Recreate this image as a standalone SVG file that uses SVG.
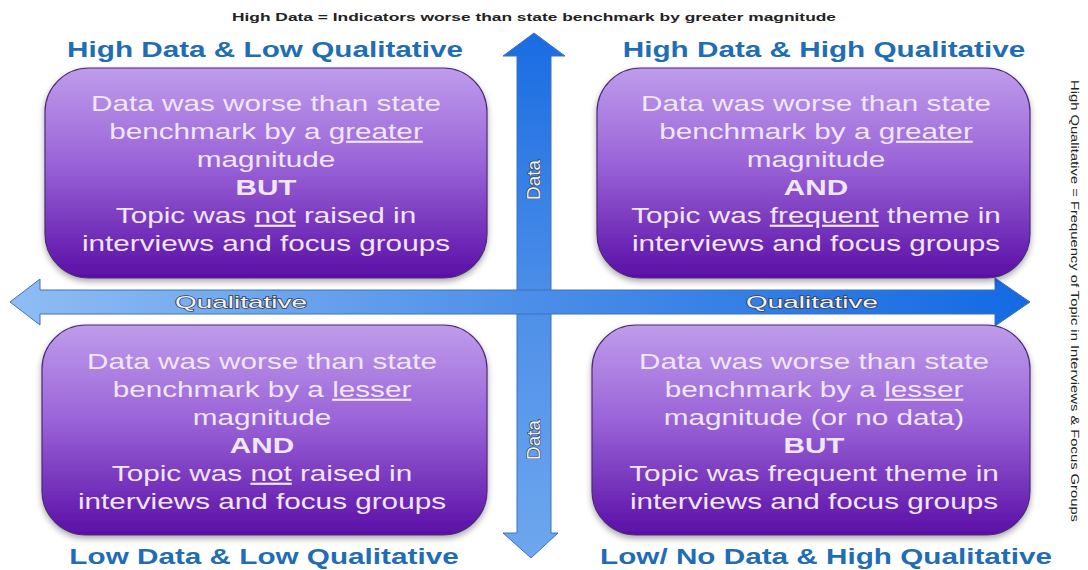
<svg xmlns="http://www.w3.org/2000/svg" width="1088" height="570" viewBox="0 0 1088 570">
<defs>
<linearGradient id="boxGrad" x1="0" y1="0" x2="0" y2="1">
<stop offset="0" stop-color="#bf9ceb"/>
<stop offset="0.45" stop-color="#9a64d8"/>
<stop offset="1" stop-color="#5a0fa6"/>
</linearGradient>
<linearGradient id="hGrad" x1="0" y1="0" x2="1" y2="0">
<stop offset="0" stop-color="#8fbdf3"/>
<stop offset="0.5" stop-color="#4d8fe8"/>
<stop offset="1" stop-color="#1469e3"/>
</linearGradient>
<linearGradient id="vGrad" x1="0" y1="0" x2="0" y2="1">
<stop offset="0" stop-color="#1a6ce2"/>
<stop offset="0.5" stop-color="#4c8ee8"/>
<stop offset="1" stop-color="#6ea7ee"/>
</linearGradient>
<filter id="shadow" x="-10%" y="-10%" width="120%" height="125%">
<feDropShadow dx="0" dy="3" stdDeviation="3" flood-color="#000" flood-opacity="0.35"/>
</filter>
</defs>
<style>
.box{fill:url(#boxGrad);stroke:#4b2a78;stroke-width:1.2;filter:url(#shadow)}
.bt{font-family:"Liberation Sans",Arial,sans-serif;font-size:22px;fill:#efe6f8;text-anchor:middle}
.b{font-weight:bold}
.u{text-decoration:underline}
.title{font-family:"Liberation Sans",Arial,sans-serif;font-size:22px;font-weight:bold;fill:#1f6db5;text-anchor:middle}
.note{font-family:"Liberation Sans",Arial,sans-serif;font-weight:bold;fill:#222;text-anchor:middle}
.side{font-family:"Liberation Sans",Arial,sans-serif;fill:#222;text-anchor:middle}
.axl{font-family:"Liberation Sans",Arial,sans-serif;fill:#eef3fb;stroke:#3a4252;stroke-width:1.3;paint-order:stroke;text-anchor:middle}
.arr{stroke:#3f72b8;stroke-width:1}
</style>
<rect width="1088" height="570" fill="#ffffff"/>

<g id="connectors">
<path class="arr" fill="url(#vGrad)" d="M534,33 L565,56 L551,56 L551,533 L558,533 L531,558 L503,533 L517,533 L517,56 L503,56 Z"/>
<path class="arr" fill="url(#hGrad)" d="M10,302 L40,279 L40,290 L995,290 L995,278 L1030,302 L995,326 L995,314 L40,314 L40,325 Z"/>
<text class="axl" font-size="18" transform="translate(540,180) rotate(-90)" text-anchor="middle" textLength="40" lengthAdjust="spacingAndGlyphs">Data</text>
<text class="axl" font-size="18" transform="translate(540,440) rotate(-90)" text-anchor="middle" textLength="40" lengthAdjust="spacingAndGlyphs">Data</text>
<text class="axl" font-size="17" x="241" y="308" textLength="132" lengthAdjust="spacingAndGlyphs">Qualitative</text>
<text class="axl" font-size="17" x="812" y="308" textLength="132" lengthAdjust="spacingAndGlyphs">Qualitative</text>
</g>

<g id="note-top">
<text class="note" font-size="11.5" x="534" y="21" textLength="604" lengthAdjust="spacingAndGlyphs">High Data = Indicators  worse than state benchmark by greater magnitude</text>
</g>
<g id="note-side">
<text class="side" font-size="11.5" transform="translate(1071,301) rotate(90)" textLength="442" lengthAdjust="spacingAndGlyphs">High Qualitative  = Frequency  of Topic  in Interviews &amp; Focus Groups</text>
</g>

<g id="q-high-data-low-qual">
<text class="title" transform="translate(265,57) scale(1.35,1)">High Data &amp; Low Qualitative</text>
<rect class="box" x="45" y="68" width="442" height="210" rx="44"/>
<g transform="translate(266,0) scale(1.35,1)">
<text class="bt" x="0" y="111">Data was worse than state</text>
<text class="bt" x="0" y="139">benchmark by a <tspan class="u">greater</tspan></text>
<text class="bt" x="0" y="167">magnitude</text>
<text class="bt b" x="0" y="195">BUT</text>
<text class="bt" x="0" y="223">Topic was <tspan class="u">not</tspan> raised in</text>
<text class="bt" x="0" y="251">interviews and focus groups</text>
</g>
</g>

<g id="q-high-data-high-qual">
<text class="title" transform="translate(824,57) scale(1.35,1)">High Data &amp; High Qualitative</text>
<rect class="box" x="597" y="68" width="433" height="210" rx="44"/>
<g transform="translate(816,0) scale(1.35,1)">
<text class="bt" x="0" y="111">Data was worse than state</text>
<text class="bt" x="0" y="139">benchmark by a <tspan class="u">greater</tspan></text>
<text class="bt" x="0" y="167">magnitude</text>
<text class="bt b" x="0" y="195">AND</text>
<text class="bt" x="0" y="223">Topic was <tspan class="u">frequent</tspan> theme in</text>
<text class="bt" x="0" y="251">interviews and focus groups</text>
</g>
</g>

<g id="q-low-data-low-qual">
<rect class="box" x="42" y="325" width="445" height="210" rx="44"/>
<g transform="translate(262,0) scale(1.35,1)">
<text class="bt" x="0" y="369">Data was worse than state</text>
<text class="bt" x="0" y="397">benchmark by a <tspan class="u">lesser</tspan></text>
<text class="bt" x="0" y="425">magnitude</text>
<text class="bt b" x="0" y="453">AND</text>
<text class="bt" x="0" y="481">Topic was <tspan class="u">not</tspan> raised in</text>
<text class="bt" x="0" y="509">interviews and focus groups</text>
</g>
<text class="title" transform="translate(264,564) scale(1.35,1)">Low Data &amp; Low Qualitative</text>
</g>

<g id="q-low-data-high-qual">
<rect class="box" x="592" y="325" width="438" height="210" rx="44"/>
<g transform="translate(814,0) scale(1.35,1)">
<text class="bt" x="0" y="369">Data was worse than state</text>
<text class="bt" x="0" y="397">benchmark by a <tspan class="u">lesser</tspan></text>
<text class="bt" x="0" y="425">magnitude (or no data)</text>
<text class="bt b" x="0" y="453">BUT</text>
<text class="bt" x="0" y="481">Topic was frequent theme in</text>
<text class="bt" x="0" y="509">interviews and focus groups</text>
</g>
<text class="title" transform="translate(826,564) scale(1.35,1)">Low/ No Data &amp; High Qualitative</text>
</g>
</svg>
